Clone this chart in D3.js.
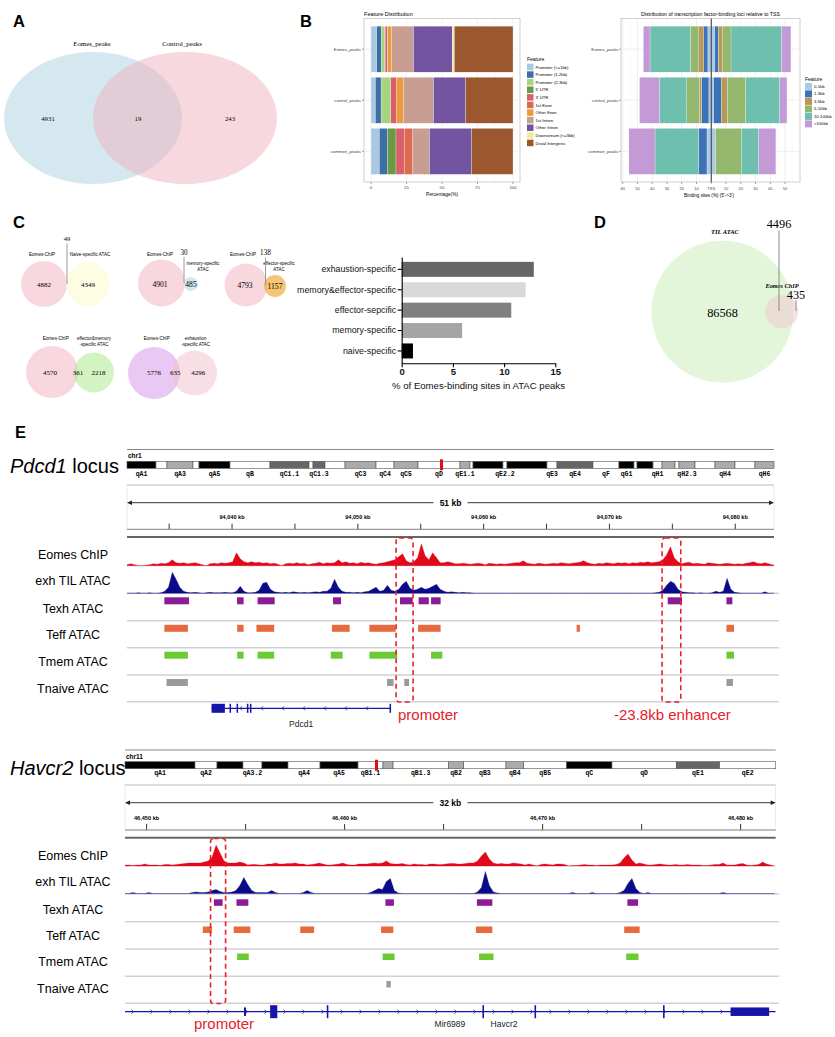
<!DOCTYPE html>
<html><head><meta charset="utf-8">
<script src="https://cdn.jsdelivr.net/npm/d3@7"></script>
<style>html,body{margin:0;padding:0;background:#fff;} svg{display:block;}</style>
</head><body>
<svg id="fig" width="835" height="1037"></svg>
<script>
// ================= DATA =================
// Panel A
const vennASets = ["Eomes_peaks", "Control_peaks"];
const vennACounts = [4931, 19, 243];

// Panel B (left) feature distribution, % per sample
const featureSamples = ["Eomes_peaks", "control_peaks", "common_peaks"];
const featureCats = ["Promoter (<=1kb)", "Promoter (1-2kb)", "Promoter (2-3kb)", "5' UTR", "3' UTR", "1st Exon", "Other Exon", "1st Intron", "Other Intron", "Downstream (<=3kb)", "Distal Intergenic"];
const featEomes = [4.0, 3.3, 2.4, 0.3, 1.4, 0.5, 2.6, 15.4, 27.4, 1.4, 41.3];
const featControl = [3.1, 4.0, 6.8, 0, 4.2, 0, 4.7, 21.2, 22.6, 0, 33.4];
const featCommon = [5.9, 5.6, 0, 6.1, 5.9, 5.9, 0, 11.8, 29.6, 0, 29.2];
const featTicks = [0, 25, 50, 75, 100];

// Panel B (right) distance to TSS, % upstream / downstream
const tssCats = ["0-1kb", "1-3kb", "3-5kb", "5-10kb", "10-100kb", ">100kb"];
const tssUpEomes = [2.3, 2.7, 3.4, 5.7, 27.4, 4.5];
const tssDownEomes = [2.3, 2.5, 2.7, 5.9, 34.3, 6.3];
const tssUpControl = [1.6, 5.0, 1.4, 8.6, 18.6, 13.4];
const tssDownControl = [1.6, 5.2, 4.1, 12.5, 23.1, 4.8];
const tssUpCommon = [2.9, 5.7, 0, 0, 29.5, 17.7];
const tssDownCommon = [2.9, 0, 0, 17.5, 11.8, 11.6];
const tssTicks = [-60, -50, -40, -30, -20, -10, 0, 10, 20, 30, 40, 50];

// Panel C venns
const vennCLeftNames = ["Eomes-ChIP", "Eomes-ChIP", "Eomes-ChIP", "Eomes-ChIP", "Eomes-ChIP"];
const vennCRightNames = [["Naive-specific ATAC"], ["memory-specific", "ATAC"], ["effector-specific", "ATAC"], ["effector&memory", "-specific ATAC"], ["exhaustion", "-specific ATAC"]];
const vennCLeftCounts = [4882, 4901, 4793, 4570, 5776];
const vennCOverlap = [49, 30, 138, 361, 635];
const vennCRightCounts = [4349, 485, 1157, 2218, 4296];

// Panel C bars
const barCats = ["exhaustion-specific", "memory&effector-specific", "effector-sepcific", "memory-specific", "naive-specific"];
const barVals = [12.9, 12.1, 10.7, 5.9, 1.1];
const barTicks = [0, 5, 10, 15];

// Panel D
const vennDNames = ["TIL ATAC", "Eomes ChIP"];
const vennDCounts = [86568, 4496, 435];

// Panel E
const trackNames = ["Eomes ChIP", "exh TIL ATAC", "Texh ATAC", "Teff ATAC", "Tmem ATAC", "Tnaive ATAC"];
// cytobands: [start fraction, end fraction, stain, name]
const chr1Bands = [[0,0.0448,"k","qA1"],[0.0448,0.0618,"w",""],[0.0618,0.102,"g","qA3"],[0.102,0.1113,"w",""],[0.1113,0.1592,"k","qA5"],[0.1592,0.221,"w","qB"],[0.221,0.2813,"d","qC1.1"],[0.2813,0.2875,"w",""],[0.2875,0.306,"d","qC1.3"],[0.306,0.337,"w",""],[0.337,0.3849,"g","qC3"],[0.3849,0.4127,"w","qC4"],[0.4127,0.4498,"g","qC5"],[0.4498,0.5147,"w","qD"],[0.5147,0.5301,"g","qE1.1"],[0.5301,0.5348,"w",""],[0.5348,0.5811,"k",""],[0.5811,0.5873,"w","qE2.2"],[0.5873,0.6491,"k",""],[0.6491,0.6646,"w","qE3"],[0.6646,0.7202,"d","qE4"],[0.7202,0.7604,"w","qF"],[0.7604,0.7836,"k","qG1"],[0.7836,0.7883,"w",""],[0.7883,0.813,"k",""],[0.813,0.8269,"w","qH1"],[0.8269,0.847,"g",""],[0.847,0.8532,"w",""],[0.8532,0.8779,"g","qH2.3"],[0.8779,0.9088,"w",""],[0.9088,0.9397,"g","qH4"],[0.9397,0.9706,"w",""],[0.9706,1,"g","qH6"]];
const chr1Mark = [0.4838, 0.4884];
const chr11Bands = [[0,0.1076,"k","qA1"],[0.1076,0.1414,"w","qA2"],[0.1414,0.1813,"k",""],[0.1813,0.2105,"w","qA3.2"],[0.2105,0.2505,"k",""],[0.2505,0.2997,"w","qA4"],[0.2997,0.3581,"k","qA5"],[0.3581,0.3965,"w","qB1.1"],[0.3965,0.4119,"g",""],[0.4119,0.4969,"w","qB1.3"],[0.4969,0.5205,"g","qB2"],[0.5205,0.5855,"w","qB3"],[0.5855,0.6127,"g","qB4"],[0.6127,0.6788,"w","qB5"],[0.6788,0.7484,"k","qC"],[0.7484,0.8472,"w","qD"],[0.8472,0.9139,"d","qE1"],[0.9139,1,"w","qE2"]];
const chr11Mark = [0.3842, 0.3888];

// Pdcd1 window (kb), coverage bins of 0.3 kb from 94031.65
const pdcd1Window = [94031.65, 94083.08];
const pdcd1BinStart = 94031.65, pdcd1BinSize = 0.3;
const pdcd1Chip = [1,2,1,0,0,0.5,1,2,1.5,2.5, 2,3,6,3,2.5,3,2,2.5,3,2, 1,0,2,2.5,2,3,2.5,3,4,13, 7,4,3,4,3,3.5,2.5,3,2,2.5, 1.5,0,2,2.5,2,3,2,2.5,1,2, 2.5,3.5,2,3,2.5,3,6,3,4,2.5, 3,2,3.5,2.5,3,2,1.5,2.5,3,4, 5,6,9,12,5,3,4,8,22,10, 6,13,8,3,3,4,3,2,2,2.5, 2,1.5,2,2.5,2,1,2.5,2,1.5,2, 1.5,2,2.5,3,3,5,2.5,2,1.5,2.5, 2,1.5,2,2.5,2,3,2.5,2,2.5,3, 3.5,5,3,2,1.5,2.5,2,3,2.5,2, 3,2.5,3,2,3,2.5,3.5,3,4,3, 3.5,4,6,11,19,8,4,2,3,3.5, 2,2.5,2,1.5,3,2.5,2,1.5,2,2.5, 2,1.5,2,1.5,2.5,3,4,2.5,2,3, 2,1];
const pdcd1Atac = [0,0,0,0.5,0,0,0.5,0,0,0.5, 2,6,21,14,6,2,1,0.5,1,0.5, 0,0.5,1,0.5,0.5,0.5,1,0.5,0.5,2, 7,2,0.5,0.5,1,3,10,11,4,1.5, 1,0.5,1,0.5,1.5,1,0.5,1,0.5,1, 1.5,1,2,2,5,14,6,2,1,1, 0.5,1,0.5,1.5,2,4,6,2,3,8, 3,2,4,9,12,5,3,4,6,4, 5,7,9,4,2,1,1.5,1,0.5,1, 0.5,0.5,0,0,0,0,0,0,0,0, 0,0,0,0,0,0,0,0,0,0, 0,0,0,0,0,0,0,0,0,0, 0,0,0,0,0,0,0,0,0,0, 0,0,0,0,0,0,0,0,0,0, 0.5,1,3,8,12,10,4,1.5,1,0.5, 0.5,0,0.5,0,0,0.5,2,1,2,15, 4,1,0.5,0,0,0,0,0,0,1.5, 0,0];
const texhPdcd1 = [[94034.62,94036.58],[94040.40,94040.92],[94042.03,94043.39],[94048.03,94048.66],[94053.35,94054.36],[94054.83,94055.64],[94055.82,94056.58],[94074.63,94075.77],[94079.30,94079.77]];
const teffPdcd1 = [[94034.62,94036.49],[94040.41,94040.92],[94041.94,94043.35],[94047.94,94049.35],[94050.92,94053.00],[94054.79,94056.58],[94067.39,94067.65],[94079.30,94079.90]];
const tmemPdcd1 = [[94034.62,94036.49],[94040.41,94040.92],[94042.03,94043.35],[94047.85,94048.79],[94050.92,94053.13],[94055.82,94056.71],[94079.30,94079.90]];
const tnaivePdcd1 = [[94034.79,94036.49],[94052.32,94052.84],[94053.69,94054.07],[94079.30,94079.82]];
const pdcd1GeneSpan = [94038.37, 94052.62];
const pdcd1Exons = [[94038.37,94039.43],[94039.80,94039.92],[94040.36,94040.48],[94041.18,94041.30],[94041.42,94041.54],[94052.52,94052.62]];
const pdcd1ExonKinds = ["cds","cds","cds","cds","cds","cds"];
const pdcd1GeneLabels = [["Pdcd1", 94045.49]];
const pdcd1Boxes = [[94053.04, 94054.39], [94074.18, 94075.67]];
const pdcd1Annots = ["promoter", "-23.8kb enhancer"];

// Havcr2 window (kb), coverage bins of 0.2 kb from 46448.91
const havcr2Window = [46448.91, 46481.77];
const havcr2BinStart = 46448.91, havcr2BinSize = 0.2;
const havcr2Chip = [1,1,0.5,1,1,2,1,1,1,0.5, 1.5,1.5,1,1.5,2,2.5,3,3,3,3, 4,5,9,21,13,5,3,3,3,4, 3,1,1.5,1.5,1,1,2,2,3,2, 2,2.5,2.5,3,2,2,1,1.5,2,3, 2,1,1,1.5,2,3,1.5,1,1,2, 2,2,2.5,3,2.5,3,5,2.5,2,2, 2.5,1.5,1,2,1.5,1.5,1,2,2,1.5, 1.5,2,2.5,2.5,2,2,2.5,3,3,5, 10,14,7,3,2,2.5,2,2,3,2.5, 2,1,2,1,0,1.5,2,1.5,1,2, 2,1.5,0,0.5,0.5,1,1.5,1,1,0.5, 1,1,1,1,1.5,3,8,12,6,2, 3,2,1,1,1.5,2,1.5,1,1,1.5, 1,1,1.5,1,1,1,0.5,0.5,1,1.5, 1.5,3,1,1,1,2,2.5,1,0.5,1, 1.5,4,2,1];
const havcr2Atac = [0,0,1,0,0,0,1,0,0,0, 0,0,0,0,0,0,0,1,1.5,1, 1,1.5,3,4,2,1,1,1.5,3,8, 16,9,3,1,1,1,1,3,1,0, 0,0,0,0,0,1,3,1,0,0, 0,0,0,0,0,0,0,0,0,0, 0,0,1,3,5,4,12,15,3,0.5, 0,0,0,0,0,0,0,0,0,0, 0,0,0,0,0,0,0,0,0,1.5, 6,22,8,1.5,0.5,0,0,0,0,0, 0,0,0,0,0,0,0,0,0,0, 0,0,0,1,0,0,0,0,1,0, 0,0,0,0,0,1,3,10,15,5, 1,0,1,0,0,0,0,0,0,0, 0,0,0,0,0,0,0,0,0,0, 0,1,0,0,0,0,0,0,0,0, 0,0,0,0];
const texhHavcr2 = [[46453.40,46453.84],[46454.54,46455.14],[46462.06,46462.49],[46466.68,46467.46],[46474.28,46474.82]];
const teffHavcr2 = [[46452.84,46453.30],[46454.40,46455.24],[46457.76,46458.46],[46461.84,46462.46],[46466.63,46467.46],[46474.12,46474.90]];
const tmemHavcr2 = [[46454.57,46455.16],[46461.92,46462.52],[46466.79,46467.52],[46474.22,46474.84]];
const tnaiveHavcr2 = [[46462.11,46462.33]];
const havcr2GeneSpan = [46448.91, 46481.77];
const havcr2Exons = [[46454.92,46455.02],[46456.24,46456.60],[46459.10,46459.18],[46466.96,46467.04],[46469.59,46469.67],[46476.08,46476.16],[46479.49,46481.44]];
const havcr2ExonKinds = ["utr","cds","cds","cds","cds","cds","utr"];
const havcr2GeneLabels = [["Mir6989", 46465.32], ["Havcr2", 46468.05]];
const havcr2Boxes = [[46453.23, 46453.99]];
const havcr2Annots = ["promoter"];

// ================= DRAWING =================
const svg = d3.select("#fig");
const SANS = "'Liberation Sans', Arial, Helvetica, sans-serif";
const SERIF = "'Liberation Serif', 'Times New Roman', serif";
const MONO = "'Liberation Mono', 'Courier New', monospace";

function T(g, x, y, s, o = {}) {
  return g.append("text").attr("x", x).attr("y", y).text(s)
    .attr("font-family", o.ff || SANS).attr("font-size", o.fs || 10)
    .attr("font-weight", o.fw || null).attr("font-style", o.it ? "italic" : null)
    .attr("text-anchor", o.a || "start").attr("fill", o.c || "#000");
}

// Panel letters
[["A",13,27],["B",300,27],["C",13,228],["D",594,228],["E",15,438]].forEach(p => T(svg, p[1], p[2], p[0], {fs:16.5, fw:"bold"}));

// ---------- Panel A ----------
{
  const g = svg.append("g");
  g.append("ellipse").attr("cx", 93).attr("cy", 118).attr("rx", 89).attr("ry", 66).attr("fill", "#add1df").attr("fill-opacity", 0.5);
  g.append("ellipse").attr("cx", 185).attr("cy", 118).attr("rx", 92).attr("ry", 66).attr("fill", "#edb1bd").attr("fill-opacity", 0.5);
  T(g, 92, 45.5, vennASets[0], {ff:SERIF, fs:6.8, a:"middle"});
  T(g, 182, 45.5, vennASets[1], {ff:SERIF, fs:6.8, a:"middle"});
  [48, 138, 230].forEach((x, i) => T(g, x, 120.5, vennACounts[i], {ff:SERIF, fs:6.8, a:"middle"}));
}

// ---------- Panel B left ----------
const featColors = ["#a9c9e0","#3b6fa5","#a8d47f","#6b9a45","#d95f6c","#dc6a4e","#ec9a3a","#c89e92","#7254a1","#f1ed9f","#9b5730"];
{
  const g = svg.append("g");
  const x = d3.scaleLinear([0, 100], [371, 513]);
  const y = d3.scaleBand(featureSamples, [18.5, 182]).paddingInner(0.1).paddingOuter(0.15);
  g.append("rect").attr("x", 364).attr("y", 18.5).attr("width", 156).attr("height", 163.5).attr("fill", "#fff").attr("stroke", "#c4c4c4").attr("stroke-width", 0.8);
  [12.5, 37.5, 62.5, 87.5].forEach(v => g.append("line").attr("x1", x(v)).attr("x2", x(v)).attr("y1", 18.5).attr("y2", 182).attr("stroke", "#f0f0f0").attr("stroke-width", 0.4));
  featTicks.forEach(v => g.append("line").attr("x1", x(v)).attr("x2", x(v)).attr("y1", 18.5).attr("y2", 182).attr("stroke", "#e4e4e4").attr("stroke-width", 0.6));
  featureSamples.forEach(s => g.append("line").attr("x1", 364).attr("x2", 520).attr("y1", y(s) + y.bandwidth()/2).attr("y2", y(s) + y.bandwidth()/2).attr("stroke", "#e4e4e4").attr("stroke-width", 0.6));
  const series = [featEomes, featControl, featCommon];
  featureSamples.forEach((s, si) => {
    let acc = 0;
    series[si].forEach((v, ci) => {
      if (v > 0) g.append("rect").attr("x", x(acc)).attr("y", y(s)).attr("width", x(acc + v) - x(acc)).attr("height", y.bandwidth()).attr("fill", featColors[ci]).attr("stroke", "#fff").attr("stroke-width", 0.25);
      acc += v;
    });
    g.append("line").attr("x1", 362).attr("x2", 364).attr("y1", y(s) + y.bandwidth()/2).attr("y2", y(s) + y.bandwidth()/2).attr("stroke", "#444").attr("stroke-width", 0.5);
    T(g, 361, y(s) + y.bandwidth()/2 + 1.5, s, {fs:4.3, a:"end", c:"#444"});
  });
  featTicks.forEach(v => {
    g.append("line").attr("x1", x(v)).attr("x2", x(v)).attr("y1", 182).attr("y2", 184).attr("stroke", "#444").attr("stroke-width", 0.5);
    T(g, x(v), 188.8, v, {fs:4.3, a:"middle", c:"#444"});
  });
  T(g, 364, 15.5, "Feature Distribution", {fs:5.6});
  T(g, 442, 195.5, "Percentage(%)", {fs:4.8, a:"middle"});
  T(g, 527, 60.5, "Feature", {fs:5});
  featureCats.forEach((c, i) => {
    const cy = 67 + i * 7.6;
    g.append("rect").attr("x", 527).attr("y", cy - 3.3).attr("width", 6.5).attr("height", 6.5).attr("fill", featColors[i]);
    T(g, 535.5, cy + 1.5, c, {fs:4.2});
  });
}

// ---------- Panel B right ----------
const tssColors = ["#a8cbe5","#3d72b8","#b7975a","#93b86d","#6ebfad","#c39ad6"];
{
  const g = svg.append("g");
  const x = d3.scaleLinear([-60, 60], [622.7, 799.8]);
  const y = d3.scaleBand(featureSamples, [18.5, 182]).paddingInner(0.1).paddingOuter(0.15);
  g.append("rect").attr("x", 621).attr("y", 18.5).attr("width", 179).attr("height", 163.5).attr("fill", "#fff").attr("stroke", "#c4c4c4").attr("stroke-width", 0.8);
  tssTicks.forEach(v => g.append("line").attr("x1", x(v + 5)).attr("x2", x(v + 5)).attr("y1", 18.5).attr("y2", 182).attr("stroke", "#f0f0f0").attr("stroke-width", 0.4));
  tssTicks.forEach(v => g.append("line").attr("x1", x(v)).attr("x2", x(v)).attr("y1", 18.5).attr("y2", 182).attr("stroke", "#e4e4e4").attr("stroke-width", 0.6));
  featureSamples.forEach(s => g.append("line").attr("x1", 621).attr("x2", 800).attr("y1", y(s) + y.bandwidth()/2).attr("y2", y(s) + y.bandwidth()/2).attr("stroke", "#e4e4e4").attr("stroke-width", 0.6));
  const ups = [tssUpEomes, tssUpControl, tssUpCommon];
  const downs = [tssDownEomes, tssDownControl, tssDownCommon];
  featureSamples.forEach((s, si) => {
    let acc = 0;
    ups[si].forEach((v, ci) => {
      if (v > 0) g.append("rect").attr("x", x(-(acc + v))).attr("y", y(s)).attr("width", x(-acc) - x(-(acc + v))).attr("height", y.bandwidth()).attr("fill", tssColors[ci]).attr("stroke", "#fff").attr("stroke-width", 0.25);
      acc += v;
    });
    acc = 0;
    downs[si].forEach((v, ci) => {
      if (v > 0) g.append("rect").attr("x", x(acc)).attr("y", y(s)).attr("width", x(acc + v) - x(acc)).attr("height", y.bandwidth()).attr("fill", tssColors[ci]).attr("stroke", "#fff").attr("stroke-width", 0.25);
      acc += v;
    });
    g.append("line").attr("x1", 619).attr("x2", 621).attr("y1", y(s) + y.bandwidth()/2).attr("y2", y(s) + y.bandwidth()/2).attr("stroke", "#444").attr("stroke-width", 0.5);
    T(g, 618.5, y(s) + y.bandwidth()/2 + 1.5, s, {fs:4.3, a:"end", c:"#444"});
  });
  g.append("line").attr("x1", x(0)).attr("x2", x(0)).attr("y1", 18.5).attr("y2", 182).attr("stroke", "#333").attr("stroke-width", 1);
  tssTicks.forEach(v => {
    g.append("line").attr("x1", x(v)).attr("x2", x(v)).attr("y1", 182).attr("y2", 184).attr("stroke", "#444").attr("stroke-width", 0.5);
    T(g, x(v), 189.5, v === 0 ? "TSS" : Math.abs(v), {fs:4, a:"middle", c:"#444"});
  });
  T(g, 710.5, 15.5, "Distribution of transcription factor-binding loci relative to TSS", {fs:5.2, a:"middle"});
  T(g, 709, 196.5, "Binding sites (%) (5'->3')", {fs:4.6, a:"middle"});
  T(g, 805, 81, "Feature", {fs:5});
  tssCats.forEach((c, i) => {
    const cy = 86.3 + i * 7.5;
    g.append("rect").attr("x", 805).attr("y", cy - 3.4).attr("width", 7).attr("height", 7).attr("fill", tssColors[i]);
    T(g, 814, cy + 1.5, c, {fs:4.2});
  });
}

// ---------- Panel C venns ----------
{
  const g = svg.append("g");
  const L = [
    {a:[44,284,23], b:[88,284,22], cb:"#fbfbc8", ob:0.5, la:[42,255.5], lb:[90,255.5], na:[44,286.5], nb:[88,286.5], fsN:7, call:[67,241,243.5,284,6.5]},
    {a:[161.5,283,23.5], b:[191,284,7], cb:"#a8d3e8", ob:0.5, la:[160,255.5], lb:[203,265], na:[160,286.5], nb:[191,286.5], fsN:7.6, call:[184,255,257,283,7.2]},
    {a:[246,285,21.5], b:[275,286,11], cb:"#f0b040", ob:0.72, la:[243,255.5], lb:[279,265], na:[245,288], nb:[275,288.5], fsN:7.6, call:[265.5,255,257.5,285,7.2]},
    {a:[52,372,26], b:[94,372.5,20], cb:"#aae888", ob:0.5, la:[55.7,340], lb:[94,340], na:[50,375], nb:[98.5,375], fsN:7, inner:[78,375]},
    {a:[154,373,26], b:[194.5,373,22.5], ca:"#d391e8", cb:"#f0c0cc", ob:0.5, la:[156.7,340], lb:[195.7,340], na:[154,375], nb:[198.3,375], fsN:7, inner:[175.3,375]}
  ];
  L.forEach((l, i) => {
    g.append("circle").attr("cx", l.a[0]).attr("cy", l.a[1]).attr("r", l.a[2]).attr("fill", l.ca || "#ef9ab0").attr("fill-opacity", l.ca ? 0.5 : 0.4);
    g.append("circle").attr("cx", l.b[0]).attr("cy", l.b[1]).attr("r", l.b[2]).attr("fill", l.cb).attr("fill-opacity", l.ob);
    T(g, l.la[0], l.la[1], vennCLeftNames[i], {fs:4.6, a:"middle"});
    vennCRightNames[i].forEach((s, k) => T(g, l.lb[0], l.lb[1] + k * 5.6, s, {fs:4.5, a:"middle"}));
    T(g, l.na[0], l.na[1], vennCLeftCounts[i], {ff:SERIF, fs:l.fsN, a:"middle"});
    T(g, l.nb[0], l.nb[1], vennCRightCounts[i], {ff:SERIF, fs:l.fsN, a:"middle"});
    if (l.call) {
      g.append("line").attr("x1", l.call[0]).attr("x2", l.call[0]).attr("y1", l.call[2]).attr("y2", l.call[3]).attr("stroke", "#9a9a9a").attr("stroke-width", 1);
      T(g, l.call[0], l.call[1], vennCOverlap[i], {ff:SERIF, fs:l.call[4], a:"middle"});
    } else {
      T(g, l.inner[0], l.inner[1], vennCOverlap[i], {ff:SERIF, fs:7, a:"middle"});
    }
  });
}

// ---------- Panel C bar chart ----------
const barColors = ["#666666", "#d9d9d9", "#808080", "#a5a5a7", "#000000"];
{
  const g = svg.append("g");
  const x = d3.scaleLinear([0, 15], [401.7, 555.3]);
  const y = d3.scaleBand(barCats, [257, 363.3]).paddingInner(0.265).paddingOuter(0.238);
  barCats.forEach((c, i) => g.append("rect").attr("x", x(0)).attr("y", y(c)).attr("width", x(barVals[i]) - x(0)).attr("height", y.bandwidth()).attr("fill", barColors[i]));
  const al = g.append("g").attr("transform", `translate(${x(0)},0)`).call(d3.axisLeft(y).tickSize(4).tickSizeOuter(0).tickPadding(1.5));
  al.selectAll("text").attr("font-family", SANS).attr("font-size", 8.8).attr("fill", "#111");
  al.selectAll("path,line").attr("stroke", "#000").attr("stroke-width", 1.1);
  const ab = g.append("g").attr("transform", "translate(0,363.3)").call(d3.axisBottom(x).tickValues(barTicks).tickSize(4).tickSizeOuter(0).tickPadding(1));
  ab.selectAll("text").attr("font-family", SANS).attr("font-size", 9.5).attr("font-weight", "bold").attr("fill", "#111");
  ab.selectAll("path,line").attr("stroke", "#000").attr("stroke-width", 1.1);
  T(g, 478.5, 388.5, "% of Eomes-binding sites in ATAC peaks", {fs:9.6, a:"middle", c:"#111"});
}

// ---------- Panel D ----------
{
  const g = svg.append("g");
  g.append("circle").attr("cx", 722.5).attr("cy", 311.7).attr("r", 71).attr("fill", "#c8eeb3").attr("fill-opacity", 0.5);
  g.append("circle").attr("cx", 781.7).attr("cy", 311.7).attr("r", 16.5).attr("fill", "#f0c3d0").attr("fill-opacity", 0.5);
  T(g, 725, 233.5, vennDNames[0], {ff:SERIF, fs:6.5, it:true, fw:"bold", a:"middle"});
  T(g, 782, 288.3, vennDNames[1], {ff:SERIF, fs:6.3, it:true, fw:"bold", a:"middle"});
  T(g, 722.5, 316.5, vennDCounts[0], {ff:SERIF, fs:12.3, a:"middle"});
  g.append("line").attr("x1", 779).attr("x2", 779).attr("y1", 230.5).attr("y2", 311).attr("stroke", "#8a8a8a").attr("stroke-width", 1);
  T(g, 779, 228.3, vennDCounts[1], {ff:SERIF, fs:12.3, a:"middle"});
  g.append("line").attr("x1", 796).attr("x2", 796).attr("y1", 300).attr("y2", 311).attr("stroke", "#8a8a8a").attr("stroke-width", 1);
  T(g, 796, 298.8, vennDCounts[2], {ff:SERIF, fs:12.3, a:"middle"});
}

// ---------- Panel E ----------
const peakColors = ["#8b1c96", "#e8693d", "#6ccb34", "#9a9a9a"];
function drawLocus(c) {
  const g = svg.append("g");
  const x = d3.scaleLinear(c.win, [c.x0, c.x1]);
  const xc = d3.scaleLinear([0, 1], [c.x0, c.x1]);
  const Y = c.y;
  const clipId = "clip" + c.gene;
  svg.append("defs").append("clipPath").attr("id", clipId).append("rect").attr("x", c.x0).attr("y", 0).attr("width", c.x1 - c.x0).attr("height", 1037);

  const t = g.append("text").attr("x", 10).attr("y", Y.title).attr("font-family", SANS).attr("font-size", 20);
  t.append("tspan").attr("font-style", "italic").text(c.gene);
  t.append("tspan").text(" locus");

  g.append("line").attr("x1", c.x0).attr("x2", c.x1).attr("y1", Y.top).attr("y2", Y.top).attr("stroke", "#8a8a8a").attr("stroke-width", 1.2);
  T(g, c.x0 + 1, Y.chr, c.chr, {fs:6.5, fw:"bold"});
  const stain = {k:"#000", g:"#ababab", d:"#666", w:"#fff"};
  c.bands.forEach(b => {
    g.append("rect").attr("x", xc(b[0])).attr("y", Y.ideo).attr("width", xc(b[1]) - xc(b[0])).attr("height", 7).attr("fill", stain[b[2]]).attr("stroke", "#555").attr("stroke-width", 0.6);
    if (b[3]) T(g, (xc(b[0]) + xc(b[1])) / 2, Y.band, b[3], {ff:MONO, fs:6.5, fw:"bold", a:"middle"});
  });
  g.append("rect").attr("x", xc(c.mark[0])).attr("y", Y.ideo - 2).attr("width", xc(c.mark[1]) - xc(c.mark[0])).attr("height", 11).attr("fill", "#e01010");

  // ruler frame
  g.append("rect").attr("x", c.x0).attr("y", Y.gray).attr("width", c.x1 - c.x0).attr("height", Y.axis - Y.gray).attr("fill", "none").attr("stroke", "#e6e6e6").attr("stroke-width", 0.8);
  g.append("line").attr("x1", c.x0).attr("x2", c.x1).attr("y1", Y.gray).attr("y2", Y.gray).attr("stroke", "#dcdce0").attr("stroke-width", 2);
  // scale arrow
  const ay = Y.arrow;
  g.append("line").attr("x1", c.x0 + 3).attr("x2", c.x1 - 3).attr("y1", ay).attr("y2", ay).attr("stroke", "#222").attr("stroke-width", 0.9);
  g.append("path").attr("d", `M${c.x0},${ay} l5,-2.3 v4.6 z`).attr("fill", "#222");
  g.append("path").attr("d", `M${c.x1},${ay} l-5,-2.3 v4.6 z`).attr("fill", "#222");
  const mid = (c.x0 + c.x1) / 2;
  g.append("rect").attr("x", mid - 17).attr("y", ay - 5).attr("width", 34).attr("height", 10).attr("fill", "#fff");
  T(g, mid, ay + 3, Math.floor(c.win[1] - c.win[0]) + " kb", {fs:8.5, fw:"bold", a:"middle"});
  // ticks
  const ticks = d3.range(Math.ceil(c.win[0] / 5) * 5, c.win[1], 5);
  ticks.forEach(v => {
    g.append("line").attr("x1", x(v)).attr("x2", x(v)).attr("y1", Y.tick0).attr("y2", Y.axis).attr("stroke", "#333").attr("stroke-width", 1);
    if (v % 10 === 0) T(g, x(v), Y.tickLab, d3.format(",")(v) + " kb", {fs:5.6, fw:"bold", a:"middle"});
  });
  g.append("line").attr("x1", c.x0).attr("x2", c.x1).attr("y1", Y.axis).attr("y2", Y.axis).attr("stroke", "#888").attr("stroke-width", 1);
  g.append("line").attr("x1", c.x0).attr("x2", c.x1).attr("y1", Y.dbl).attr("y2", Y.dbl).attr("stroke", "#666").attr("stroke-width", 2);

  // separators
  Y.seps.forEach(s => g.append("line").attr("x1", c.x0).attr("x2", c.sepX1).attr("y1", s).attr("y2", s).attr("stroke", "#d2d2d6").attr("stroke-width", 1.4));
  g.append("line").attr("x1", c.x0).attr("x2", c.x1).attr("y1", Y.chip).attr("y2", Y.chip).attr("stroke", "#dddddd").attr("stroke-width", 1);

  // signal tracks
  const tg = g.append("g").attr("clip-path", `url(#${clipId})`);
  const ys = d3.scaleLinear([0, 22], [0, 22]);
  function signal(vals, base, color) {
    const pts = vals.map((v, i) => [c.binStart + i * c.binSize, v]);
    pts.unshift([c.binStart, 0]);
    pts.push([c.binStart + vals.length * c.binSize, 0]);
    const area = d3.area().x(d => x(d[0])).y0(base).y1(d => base - ys(d[1])).curve(d3.curveLinear);
    tg.append("path").attr("d", area(pts)).attr("fill", color).attr("stroke", color).attr("stroke-width", 0.3);
  }
  signal(c.chipBins, Y.chip, "#e1081c");
  signal(c.atacBins, Y.atac, "#0b0b8a");

  // peak rows
  c.peaks.forEach((rows, k) => rows.forEach(p => {
    tg.append("rect").attr("x", x(p[0])).attr("y", Y.peakTops[k]).attr("width", Math.max(1.5, x(p[1]) - x(p[0]))).attr("height", Y.peakH).attr("fill", peakColors[k]);
  }));

  // gene track
  const gy = Y.gene;
  tg.append("line").attr("x1", x(c.geneSpan[0])).attr("x2", x(c.geneSpan[1])).attr("y1", gy).attr("y2", gy).attr("stroke", "#1515a8").attr("stroke-width", 1.2);
  const gx0 = x(c.geneSpan[0]) + 8, gx1 = x(c.geneSpan[1]) - 4;
  for (let cx = gx0; cx < gx1; cx += c.chevronStep) {
    const d = c.strand < 0 ? `M${cx + 1.5},${gy - 2} L${cx - 0.5},${gy} L${cx + 1.5},${gy + 2}` : `M${cx - 1.5},${gy - 2} L${cx + 0.5},${gy} L${cx - 1.5},${gy + 2}`;
    tg.append("path").attr("d", d).attr("fill", "none").attr("stroke", "#1515a8").attr("stroke-width", 0.8);
  }
  c.exons.forEach((e, i) => {
    const h = c.exonKinds[i] === "cds" ? c.cdsH : c.utrH;
    tg.append("rect").attr("x", x(e[0])).attr("y", gy - h / 2).attr("width", Math.max(1.5, x(e[1]) - x(e[0]))).attr("height", h).attr("fill", "#1515a8");
  });
  c.geneLabels.forEach(l => T(g, x(l[1]), Y.geneLab, l[0], {fs:8.5, a:"middle", c:"#222"}));

  // dashed boxes + annotations
  c.boxes.forEach((b, i) => {
    g.append("rect").attr("x", x(b[0])).attr("y", Y.boxTop).attr("width", x(b[1]) - x(b[0])).attr("height", Y.boxBot - Y.boxTop)
      .attr("rx", 3).attr("fill", "none").attr("stroke", "#e8202a").attr("stroke-width", 1.6).attr("stroke-dasharray", "5,3.5");
    const a = c.annotPos[i];
    T(g, a[0], Y.annot, c.annots[i], {fs:15, c:"#e8202a", a:a[1]});
  });

  // track labels
  trackNames.forEach((n, i) => T(g, 73, Y.labels[i], n, {fs:12.5, a:"middle"}));
}

drawLocus({
  gene:"Pdcd1", chr:"chr1", win:pdcd1Window, x0:127, x1:774, sepX1:779, bands:chr1Bands, mark:chr1Mark,
  y:{title:473, top:449.5, chr:458, ideo:461.3, band:475.5, gray:485, arrow:502.7, tickLab:519.3, tick0:523.7, axis:529.3, dbl:537, chip:565.7, atac:593.3,
     peakTops:[597.3,624.8,651.7,679], peakH:7, seps:[593.3,620.7,647.7,675,701.7], gene:708.3, geneLab:726.7, boxTop:538, boxBot:702, annot:719.5,
     labels:[559,584.5,612.5,639,666,692.5]},
  binStart:pdcd1BinStart, binSize:pdcd1BinSize, chipBins:pdcd1Chip, atacBins:pdcd1Atac,
  peaks:[texhPdcd1, teffPdcd1, tmemPdcd1, tnaivePdcd1],
  geneSpan:pdcd1GeneSpan, exons:pdcd1Exons, exonKinds:pdcd1ExonKinds, cdsH:9, utrH:6, strand:-1, chevronStep:21,
  geneLabels:pdcd1GeneLabels, boxes:pdcd1Boxes, annots:pdcd1Annots, annotPos:[[398,"start"],[614,"start"]]
});

drawLocus({
  gene:"Havcr2", chr:"chr11", win:havcr2Window, x0:125, x1:775.7, sepX1:779, bands:chr11Bands, mark:chr11Mark,
  y:{title:774.5, top:750, chr:759, ideo:761.7, band:775, gray:785, arrow:802.7, tickLab:820, tick0:824, axis:830, dbl:837.7, chip:866, atac:893.5,
     peakTops:[899.3,926.5,953.5,981], peakH:6.5, seps:[894,921.7,949,976.3,1003.3], gene:1011.7, geneLab:1027, boxTop:838.5, boxBot:1003.5, annot:1029,
     labels:[859.5,885.5,913.5,939.5,966,992.5]},
  binStart:havcr2BinStart, binSize:havcr2BinSize, chipBins:havcr2Chip, atacBins:havcr2Atac,
  peaks:[texhHavcr2, teffHavcr2, tmemHavcr2, tnaiveHavcr2],
  geneSpan:havcr2GeneSpan, exons:havcr2Exons, exonKinds:havcr2ExonKinds, cdsH:13, utrH:8.5, strand:1, chevronStep:19,
  geneLabels:havcr2GeneLabels, boxes:havcr2Boxes, annots:havcr2Annots, annotPos:[[194,"start"]]
});
</script>
</body></html>
